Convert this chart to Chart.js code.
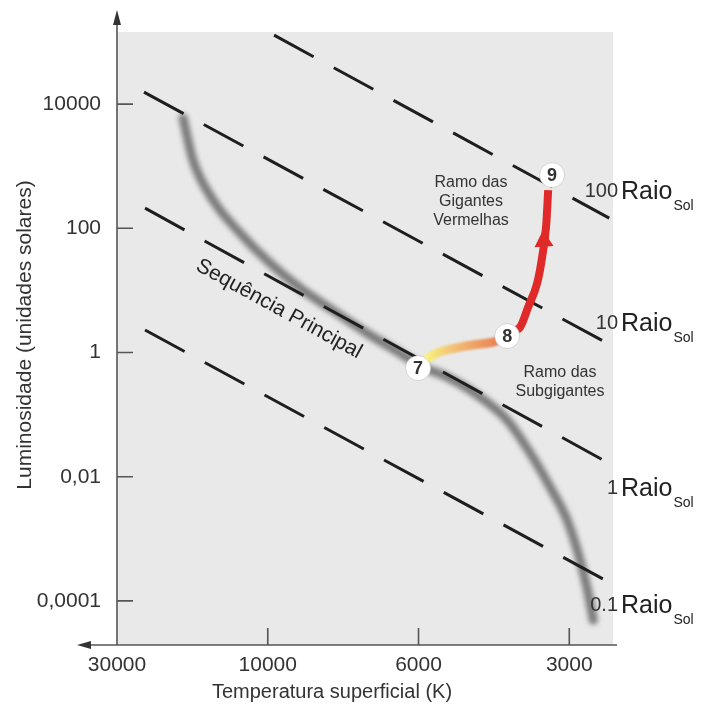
<!DOCTYPE html>
<html>
<head>
<meta charset="utf-8">
<script src="https://cdn.jsdelivr.net/npm/chart.js@4/dist/chart.umd.min.js"></script>
<style>
  html, body { margin: 0; padding: 0; background: #fff; }
  #wrap { width: 705px; height: 707px; }
</style>
</head>
<body>
<div id="wrap"><canvas id="hrChart" width="705" height="707"></canvas></div>
<script>
// temperature axis has evenly spaced labels, x values are positions along it (label index)
const tempLabels = ['30000', '10000', '6000', '3000'];
const lumTicks = [0.0001, 0.01, 1, 100, 10000];
const lumLabels = ['0,0001', '0,01', '1', '100', '10000'];

// main sequence band
const mainSeqX = [0.438, 0.504, 0.637, 0.816, 1.015, 1.234, 1.46, 1.659, 1.845, 2.031, 2.19, 2.409, 2.588, 2.741, 2.873, 2.986, 3.072, 3.125, 3.159];
const mainSeqL = [5960, 1250, 284, 83.7, 27.5, 10.1, 4.31, 2.05, 1.09, 0.582, 0.402, 0.191, 0.0815, 0.024, 0.0068, 0.002, 0.000454, 0.000134, 0.000049];

// evolution of the star: 7 -> 8 (subgigantes), 8 -> 9 (gigantes vermelhas)
const subgiantX = [2.06, 2.13, 2.309, 2.495, 2.588];
const subgiantL = [0.8, 1.01, 1.27, 1.47, 1.84];
const giantX = [2.62, 2.674, 2.727, 2.787, 2.82, 2.847, 2.86];
const giantL = [2.2, 2.56, 5.38, 13.1, 34.4, 113, 412];
const arrowX = [2.83];
const arrowL = [62];

const stageNames = ['7', '8', '9'];
const stageX = [1.997, 2.588, 2.886];
const stageL = [0.56, 1.84, 719];

// lines of constant radius (start, end)
const radiusNames = ['100', '10', '1', '0.1'];
const radiusX = [[1.042, 3.265], [0.179, 3.238], [0.186, 3.238], [0.186, 3.238]];
const radiusL = [[129000, 146], [15600, 1.47], [211, 0.0178], [2.3, 0.000216]];
const radiusLabelL = [412, 3.1, 0.0068, 0.000089];

const FONT = "'Liberation Sans', Arial, sans-serif";

function pts(xs, ls) {
    return xs.map((x, i) => ({ x: x, y: ls[i] }));
}

const datasets = [];
datasets.push({
    data: pts(mainSeqX, mainSeqL),
    borderColor: 'rgba(105,105,105,0.85)',
    borderWidth: 9,
    borderCapStyle: 'round',
    cubicInterpolationMode: 'monotone',
    pointRadius: 0,
    blur: 2.5,
    order: 10
});
radiusX.forEach((xs, i) => {
    datasets.push({
        data: pts(xs, radiusL[i]),
        borderColor: '#1e1e1e',
        borderWidth: 3,
        borderDash: [45, 23],
        pointRadius: 0,
        order: 8
    });
});
datasets.push({
    data: pts(subgiantX, subgiantL),
    borderColor: function(c) {
        const chart = c.chart;
        if (!chart.chartArea) return '#f0a060';
        const xs = chart.scales.x;
        const g = chart.ctx.createLinearGradient(xs.getPixelForValue(subgiantX[0]), 0, xs.getPixelForValue(subgiantX[subgiantX.length - 1]), 0);
        g.addColorStop(0, '#f7f07a');
        g.addColorStop(0.3, '#f4c278');
        g.addColorStop(1, '#e8744c');
        return g;
    },
    borderWidth: 9,
    borderCapStyle: 'round',
    tension: 0.15,
    pointRadius: 0,
    blur: 1,
    order: 6
});
datasets.push({
    data: pts(giantX, giantL),
    borderColor: '#e02a2a',
    borderWidth: 8,
    cubicInterpolationMode: 'monotone',
    pointRadius: 0,
    order: 5
});
datasets.push({
    data: pts(arrowX, arrowL),
    showLine: false,
    pointStyle: 'triangle',
    pointRadius: 11,
    rotation: -4,
    backgroundColor: '#e02a2a',
    borderWidth: 0,
    order: 4
});
datasets.push({
    data: pts(stageX, stageL),
    showLine: false,
    pointRadius: 12.5,
    backgroundColor: '#ffffff',
    borderColor: 'rgba(190,190,190,0.6)',
    borderWidth: 1,
    order: 1
});

const hrDecor = {
    id: 'hrDecor',
    beforeDraw(chart) {
        const a = chart.chartArea;
        const ctx = chart.ctx;
        ctx.save();
        ctx.fillStyle = '#e9e9e9';
        ctx.fillRect(a.left, a.top, a.right - a.left, a.bottom - a.top);
        ctx.restore();
    },
    beforeDatasetDraw(chart, args) {
        const ds = chart.data.datasets[args.index];
        chart.ctx.save();
        if (ds.blur) chart.ctx.filter = 'blur(' + ds.blur + 'px)';
    },
    afterDatasetDraw(chart) {
        chart.ctx.restore();
    },
    afterDraw(chart) {
        const ctx = chart.ctx;
        const a = chart.chartArea;
        const xs = chart.scales.x, ys = chart.scales.y;
        ctx.save();

        // axes with arrows
        ctx.strokeStyle = '#555';
        ctx.fillStyle = '#333';
        ctx.lineWidth = 1.6;
        ctx.beginPath();
        ctx.moveTo(a.left, a.bottom);
        ctx.lineTo(a.left, 22);
        ctx.moveTo(a.right + 4, a.bottom);
        ctx.lineTo(88, a.bottom);
        ctx.stroke();
        ctx.beginPath();
        ctx.moveTo(a.left, 10); ctx.lineTo(a.left - 4, 25); ctx.lineTo(a.left + 4, 25);
        ctx.closePath(); ctx.fill();
        ctx.beginPath();
        ctx.moveTo(77, a.bottom); ctx.lineTo(91, a.bottom - 4); ctx.lineTo(91, a.bottom + 4);
        ctx.closePath(); ctx.fill();

        // inward tick marks
        ctx.beginPath();
        lumTicks.forEach(v => {
            const y = ys.getPixelForValue(v);
            ctx.moveTo(a.left, y); ctx.lineTo(a.left + 16, y);
        });
        tempLabels.forEach((t, i) => {
            if (i === 0) return;
            const x = xs.getPixelForValue(i);
            ctx.moveTo(x, a.bottom); ctx.lineTo(x, a.bottom - 17);
        });
        ctx.stroke();

        // axis titles
        ctx.fillStyle = '#333';
        ctx.font = '20px ' + FONT;
        ctx.textAlign = 'center';
        ctx.textBaseline = 'alphabetic';
        ctx.fillText('Temperatura superficial (K)', 332, 698);
        ctx.save();
        ctx.translate(25, 335);
        ctx.rotate(-Math.PI / 2);
        ctx.font = '21px ' + FONT;
        ctx.textBaseline = 'middle';
        ctx.fillText('Luminosidade (unidades solares)', 0, 0);
        ctx.restore();

        // region labels
        ctx.save();
        ctx.translate(279, 309);
        ctx.rotate(28.7 * Math.PI / 180);
        ctx.font = '21px ' + FONT;
        ctx.fillStyle = '#222';
        ctx.textBaseline = 'middle';
        ctx.fillText('Sequência Principal', 0, 0);
        ctx.restore();

        ctx.font = '16px ' + FONT;
        ctx.fillStyle = '#333';
        ctx.textBaseline = 'middle';
        ['Ramo das', 'Gigantes', 'Vermelhas'].forEach((s, i) => ctx.fillText(s, 471, 183 + i * 19));
        ['Ramo das', 'Subgigantes'].forEach((s, i) => ctx.fillText(s, 560, 373 + i * 19));

        // stage numbers
        ctx.font = 'bold 18px ' + FONT;
        ctx.fillStyle = '#333';
        stageNames.forEach((n, i) => {
            ctx.fillText(n, xs.getPixelForValue(stageX[i]), ys.getPixelForValue(stageL[i]) + 1);
        });

        // radius labels
        ctx.textBaseline = 'alphabetic';
        radiusNames.forEach((n, i) => {
            const base = ys.getPixelForValue(radiusLabelL[i]) + 9;
            ctx.fillStyle = '#333';
            ctx.font = '20px ' + FONT;
            ctx.textAlign = 'right';
            ctx.fillText(n, 618, base - 2);
            ctx.fillStyle = '#222';
            ctx.textAlign = 'left';
            ctx.font = '25px ' + FONT;
            ctx.fillText('Raio', 621, base);
            const w = ctx.measureText('Raio').width;
            ctx.font = '14px ' + FONT;
            ctx.fillText('Sol', 621 + w + 1, base + 11);
        });

        ctx.restore();
    }
};

const ctx = document.getElementById('hrChart').getContext('2d');
new Chart(ctx, {
    type: 'line',
    data: { datasets: datasets },
    options: {
        responsive: false,
        animation: false,
        layout: { padding: { top: 32, right: 92, left: 0, bottom: 0 } },
        plugins: {
            legend: { display: false },
            tooltip: { enabled: false }
        },
        scales: {
            x: {
                type: 'linear',
                min: 0,
                max: 3.29,
                bounds: 'data',
                afterFit: s => { s.height = 62; },
                afterBuildTicks: s => { s.ticks = tempLabels.map((t, i) => ({ value: i })); },
                ticks: {
                    callback: (v, i) => tempLabels[i],
                    autoSkip: false,
                    maxRotation: 0,
                    padding: 8,
                    color: '#333',
                    font: { family: FONT, size: 21 }
                },
                grid: { display: false, drawTicks: false },
                border: { display: false }
            },
            y: {
                type: 'logarithmic',
                min: 0.0000195,
                max: 145000,
                bounds: 'data',
                afterFit: s => { s.width = 117; },
                afterBuildTicks: s => { s.ticks = lumTicks.map(v => ({ value: v })); },
                ticks: {
                    callback: (v, i) => lumLabels[i],
                    autoSkip: false,
                    padding: 16,
                    color: '#333',
                    font: { family: FONT, size: 21 }
                },
                grid: { display: false, drawTicks: false },
                border: { display: false }
            }
        }
    },
    plugins: [hrDecor]
});
</script>
</body>
</html>
